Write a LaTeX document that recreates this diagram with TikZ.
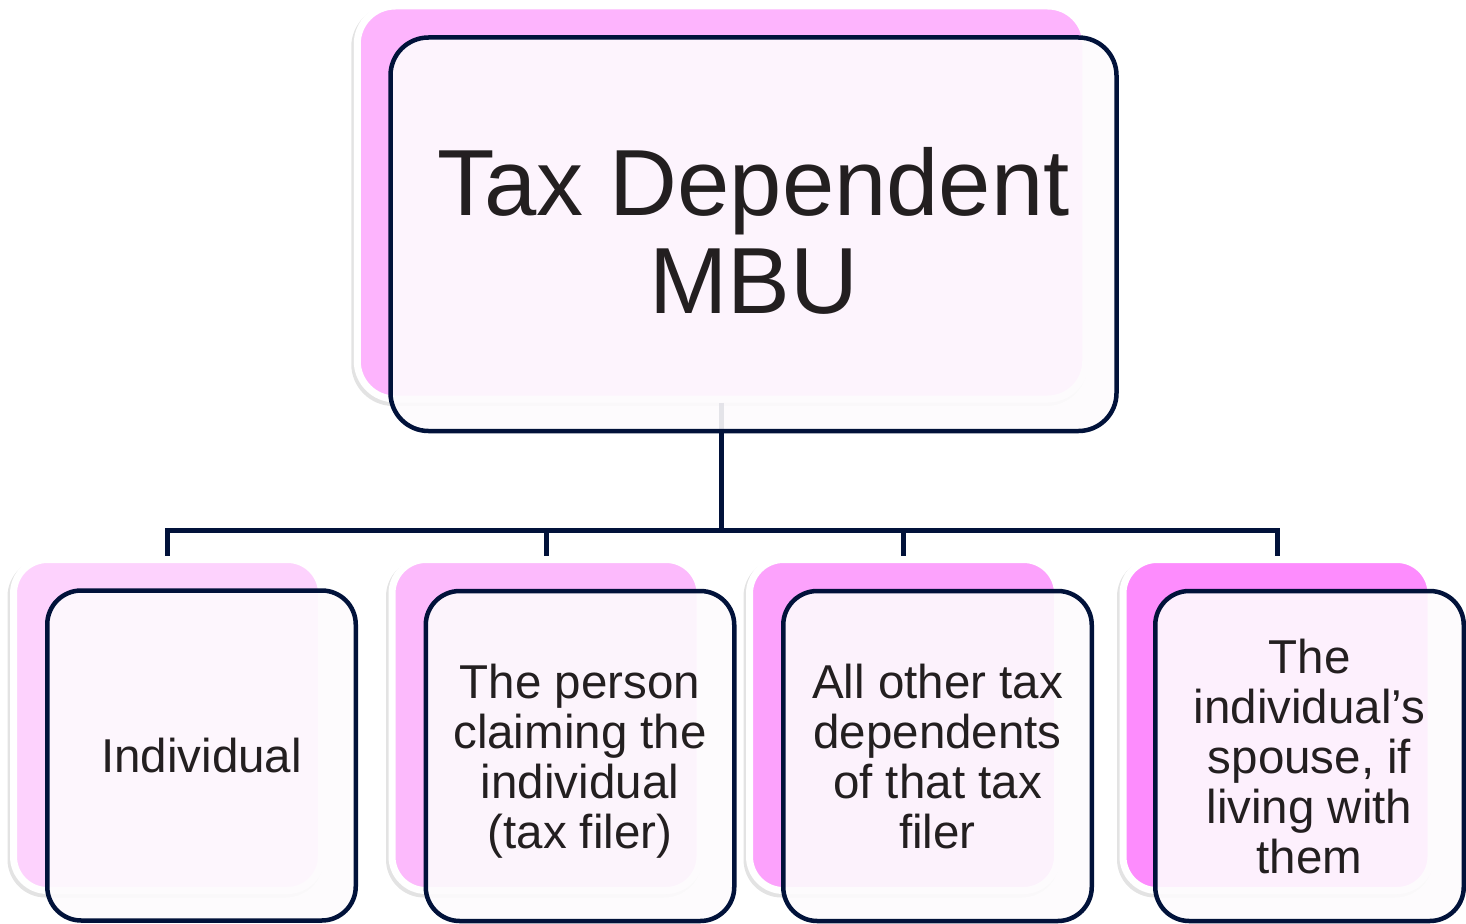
\documentclass[tikz,border=0pt]{standalone}
\usepackage{fontspec}
\setmainfont{Liberation Sans}
\usetikzlibrary{backgrounds}

\definecolor{navy}{RGB}{1,18,58}
\definecolor{ink}{RGB}{35,31,32}
\definecolor{frontfill}{RGB}{253,251,253}
\definecolor{pinkTop}{RGB}{253,180,253}
\definecolor{pinkA}{RGB}{253,210,253}
\definecolor{pinkB}{RGB}{252,186,252}
\definecolor{pinkC}{RGB}{252,162,252}
\definecolor{pinkD}{RGB}{253,140,253}

\tikzset{
  backbox/.style={
    rounded corners=34pt, draw=white, line width=7pt, inner sep=0pt,
    minimum width=308pt, minimum height=331pt,
    preaction={draw=black, draw opacity=0.11, line width=8pt,
               transform canvas={xshift=-2pt, yshift=-3pt}}},
  frontbox/.style={
    rounded corners=34pt, draw=navy, line width=4.5pt, inner sep=0pt,
    fill=frontfill, fill opacity=0.9, text opacity=1, text=ink,
    align=center, text depth=0pt,
    minimum width=308.5pt, minimum height=330pt,
    font=\fontsize{47.5}{50}\selectfont},
  link/.style={draw=navy, line width=5pt},
}

\begin{document}
\begin{tikzpicture}[x=1pt, y=-1pt]
\useasboundingbox (0,0) rectangle (1466,923);

% back panels
\node[backbox, fill=pinkTop, minimum width=728.5pt, minimum height=393pt,
      rounded corners=38pt] (topback) at (721.5,202.5) {};
\node[backbox, fill=pinkA] (b1back) at (167.5,725) {};
\node[backbox, fill=pinkB] (b2back) at (546,725) {};
\node[backbox, fill=pinkC] (b3back) at (903.5,725) {};
\node[backbox, fill=pinkD] (b4back) at (1277,725) {};

% tree connectors, behind the panels
\coordinate (bar) at (721.5,530.5);
\begin{scope}[on background layer]
  \draw[link] (topback.south) -- (bar);
  \draw[link] (bar) -| (b1back.north);
  \draw[link] (bar) -| (b2back.north);
  \draw[link] (bar) -| (b3back.north);
  \draw[link] (bar) -| (b4back.north);
\end{scope}

% front cards with text
\node[frontbox, minimum width=726pt, minimum height=393.5pt, rounded corners=38pt,
      text depth=8pt, font=\fontsize{94}{98}\selectfont]
  (top) at (753.5,234.25) {Tax Dependent\\MBU};
\node[frontbox] (b1) at (201.5,755.5) {Individual};
\node[frontbox] (b2) at (580,756) {The person\\claiming the\\individual\\(tax filer)};
\node[frontbox] (b3) at (937.5,756) {All other tax\\dependents\\of that tax\\filer};
\node[frontbox] (b4) at (1309.5,756) {The\\individual’s\\spouse, if\\living with\\them};
\end{tikzpicture}
\end{document}
